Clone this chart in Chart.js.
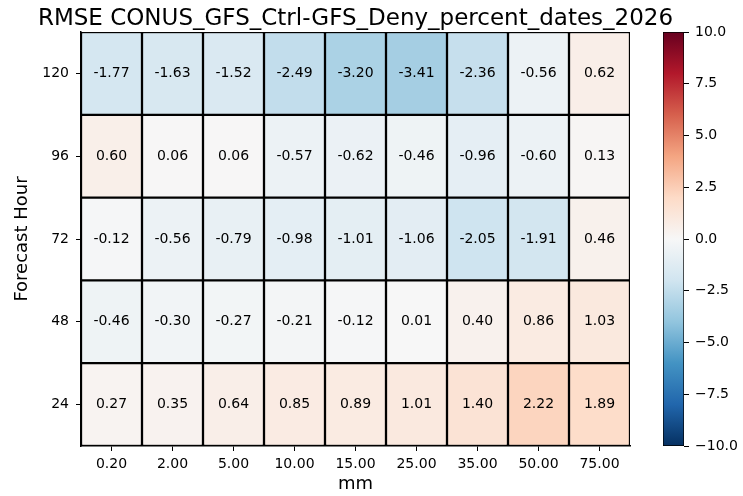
<!DOCTYPE html>
<html>
<head>
<meta charset="utf-8">
<script src="https://cdn.jsdelivr.net/npm/chart.js@4.4.1/dist/chart.umd.min.js"></script>
<style>
  body { margin: 0; background: #fff; }
  #wrap { position: relative; width: 743px; height: 496px; }
  canvas { position: absolute; left: 0; top: 0; }
</style>
</head>
<body>
<div id="wrap">
  <canvas id="heat" width="743" height="496"></canvas>
  <canvas id="cbar" width="743" height="496"></canvas>
</div>
<script>
const thresholds = ["0.20", "2.00", "5.00", "10.00", "15.00", "25.00", "35.00", "50.00", "75.00"];
const hours = ["24", "48", "72", "96", "120"];

// one array per forecast hour
const fh24 = [0.27, 0.35, 0.64, 0.85, 0.89, 1.01, 1.40, 2.22, 1.89];
const fh48 = [-0.46, -0.30, -0.27, -0.21, -0.12, 0.01, 0.40, 0.86, 1.03];
const fh72 = [-0.12, -0.56, -0.79, -0.98, -1.01, -1.06, -2.05, -1.91, 0.46];
const fh96 = [0.60, 0.06, 0.06, -0.57, -0.62, -0.46, -0.96, -0.60, 0.13];
const fh120 = [-1.77, -1.63, -1.52, -2.49, -3.20, -3.41, -2.36, -0.56, 0.62];
const rows = [fh24, fh48, fh72, fh96, fh120];

const cbarTicks = [-10, -7.5, -5, -2.5, 0, 2.5, 5, 7.5, 10];
const vmin = -10;
const vmax = 10;
const titleText = "RMSE CONUS_GFS_Ctrl-GFS_Deny_percent_dates_2026";

// RdBu_r colormap stops
const rdbu_r = [
  [5, 48, 97], [33, 102, 172], [67, 147, 195], [146, 197, 222], [209, 229, 240],
  [247, 247, 247], [253, 219, 199], [244, 165, 130], [214, 96, 77], [178, 24, 43], [103, 0, 31]
];

function cmap(v) {
  let t = (v - vmin) / (vmax - vmin);
  t = Math.max(0, Math.min(1, t)) * (rdbu_r.length - 1);
  const i = Math.min(Math.floor(t), rdbu_r.length - 2);
  const f = t - i;
  const a = rdbu_r[i], b = rdbu_r[i + 1];
  const c = a.map((x, k) => Math.round(x + (b[k] - x) * f));
  return `rgb(${c[0]},${c[1]},${c[2]})`;
}

const font = "'DejaVu Sans', sans-serif";

const datasets = rows.map((vals, r) => ({
  label: hours[r],
  data: vals.map(() => [r, r + 1]),
  values: vals,
  backgroundColor: vals.map(cmap),
  borderColor: "#000",
  borderWidth: 1.5,
  borderSkipped: false,
  grouped: false,
  barPercentage: 1,
  categoryPercentage: 1,
}));

// write the value in each cell, and the title centred over the axes
const cellLabels = {
  id: "cellLabels",
  afterDatasetsDraw(chart) {
    const ctx = chart.ctx;
    ctx.save();
    ctx.font = "14px " + font;
    ctx.fillStyle = "#000";
    ctx.textAlign = "center";
    ctx.textBaseline = "middle";
    chart.data.datasets.forEach((ds, i) => {
      chart.getDatasetMeta(i).data.forEach((bar, j) => {
        const y = (bar.y + bar.base) / 2;
        ctx.fillText(ds.values[j].toFixed(2), bar.x, y);
      });
    });
    const area = chart.chartArea;
    ctx.font = "23px " + font;
    ctx.textBaseline = "alphabetic";
    ctx.fillText(titleText, (area.left + area.right) / 2, 25);
    ctx.restore();
  },
};

new Chart(document.getElementById("heat"), {
  type: "bar",
  data: { labels: thresholds, datasets: datasets },
  plugins: [cellLabels],
  options: {
    responsive: false,
    animation: false,
    layout: { padding: { left: 0, right: 113, top: 32, bottom: 0 } },
    plugins: {
      legend: { display: false },
      tooltip: { enabled: false },
    },
    scales: {
      x: {
        type: "category",
        grid: { offset: false, drawOnChartArea: false, drawTicks: true, tickLength: 5, color: "#000" },
        border: { color: "#000", width: 1.5 },
        ticks: { color: "#000", font: { family: font, size: 14 }, padding: 5, maxRotation: 0 },
        title: { display: true, text: "mm", color: "#000", font: { family: font, size: 18 }, padding: { top: 0, bottom: 1 } },
        afterFit(scale) { scale.height = 50; },
      },
      y: {
        type: "linear",
        min: 0,
        max: 5,
        afterBuildTicks(scale) {
          scale.ticks = hours.map((h, i) => ({ value: i + 0.5 }));
        },
        grid: { drawOnChartArea: false, drawTicks: true, tickLength: 5, color: "#000" },
        border: { color: "#000", width: 1.5 },
        ticks: {
          color: "#000",
          font: { family: font, size: 14 },
          padding: 7,
          callback: (v, i) => hours[i],
        },
        title: { display: true, text: "Forecast Hour", color: "#000", font: { family: font, size: 18 }, padding: { top: 12, bottom: 0 } },
        afterFit(scale) { scale.width = 81; },
      },
    },
  },
});

// colorbar drawn as one floating bar with the colormap gradient
new Chart(document.getElementById("cbar"), {
  type: "bar",
  data: {
    labels: [""],
    datasets: [{
      data: [[vmin, vmax]],
      backgroundColor(context) {
        const area = context.chart.chartArea;
        if (!area) return "#fff";
        const g = context.chart.ctx.createLinearGradient(0, area.bottom, 0, area.top);
        rdbu_r.forEach((c, i) => g.addColorStop(i / (rdbu_r.length - 1), `rgb(${c[0]},${c[1]},${c[2]})`));
        return g;
      },
      borderColor: "#000",
      borderWidth: 1,
      borderSkipped: false,
      barPercentage: 1,
      categoryPercentage: 1,
    }],
  },
  options: {
    responsive: false,
    animation: false,
    layout: { padding: { left: 663, right: 0, top: 32, bottom: 50 } },
    plugins: { legend: { display: false }, tooltip: { enabled: false } },
    scales: {
      x: { display: false },
      y: {
        position: "right",
        min: vmin,
        max: vmax,
        afterBuildTicks(scale) {
          scale.ticks = cbarTicks.map((v) => ({ value: v }));
        },
        grid: { drawOnChartArea: false, drawTicks: true, tickLength: 5, color: "#000" },
        border: { display: false },
        ticks: {
          color: "#000",
          font: { family: font, size: 14 },
          padding: 6,
          callback: (v) => v.toFixed(1).replace("-", "\u2212"),
        },
        afterFit(scale) { scale.width = 59; },
      },
    },
  },
});
</script>
</body>
</html>
